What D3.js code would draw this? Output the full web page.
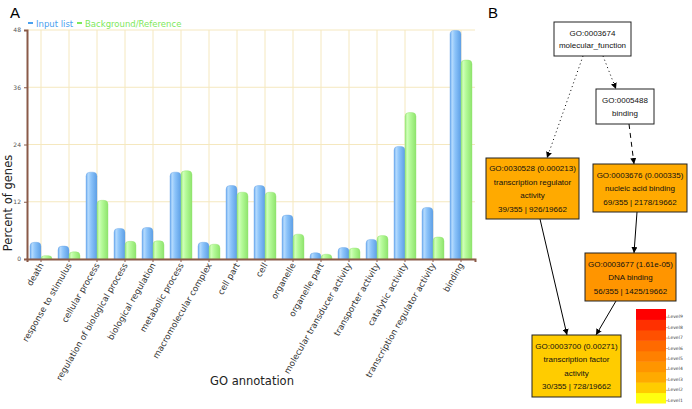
<!DOCTYPE html>
<html><head><meta charset="utf-8">
<script src="https://cdn.jsdelivr.net/npm/d3@7"></script>
<style>body{margin:0;background:#fff}svg{display:block}</style>
</head><body><svg id="c" width="692" height="409"></svg>
<script>
// ---------- Data ----------
const categories = ["death","response to stimulus","cellular process","regulation of biological process","biological regulation","metabolic process","macromolecular complex","cell part","cell","organelle","organelle part","molecular transducer activity","transporter activity","catalytic activity","transcription regulator activity","binding"];
const inputList = [3.5,2.7,18.2,6.4,6.6,18.2,3.5,15.4,15.4,9.2,1.3,2.4,4.1,23.6,10.8,47.9];
const background = [0.7,1.5,12.3,3.7,3.8,18.5,3.1,14.0,14.0,5.2,1.0,2.3,4.9,30.7,4.6,41.7];
const yTicks = [0,12,24,36,48];
const seriesNames = ["Input list","Background/Reference"];

const goNodes = [
  {id:"mf", lines:["GO:0003674","molecular_function"], level:0},
  {id:"bind", lines:["GO:0005488","binding"], level:0},
  {id:"tra", lines:["GO:0030528 (0.000213)","transcription regulator","activity","39/355 | 926/19662"], level:3},
  {id:"nab", lines:["GO:0003676 (0.000335)","nucleic acid binding","69/355 | 2178/19662"], level:3},
  {id:"dna", lines:["GO:0003677 (1.61e-05)","DNA binding","56/355 | 1425/19662"], level:4},
  {id:"tfa", lines:["GO:0003700 (0.00271)","transcription factor","activity","30/355 | 728/19662"], level:2}
];
const goEdges = [
  {s:"mf", t:"tra", style:"dotted"},
  {s:"mf", t:"bind", style:"dotted"},
  {s:"bind", t:"nab", style:"dashed"},
  {s:"nab", t:"dna", style:"solid"},
  {s:"tra", t:"tfa", style:"solid"},
  {s:"dna", t:"tfa", style:"solid"}
];
const levels = [1,2,3,4,5,6,7,8,9];
const levelColors = ["#ffff10","#ffcc00","#ffaa00","#ff9500","#ff8000","#ff6a00","#ff5000","#ff3000","#ff0000"];

// ---------- Layout (positions only) ----------
const nodeBox = {
  mf:{x:554,y:22,w:77,h:34},
  bind:{x:596,y:89,w:58,h:35},
  tra:{x:486,y:158,w:93,h:61},
  nab:{x:593,y:164,w:94,h:48},
  dna:{x:585,y:253,w:91,h:48},
  tfa:{x:532,y:335,w:89,h:62}
};
const edgeAnchors = {
  "mf-tra":[[583,56],[547,158]],
  "mf-bind":[[603,56],[616,89]],
  "bind-nab":[[629,124],[634,164]],
  "nab-dna":[[637,212],[634,253]],
  "tra-tfa":[[540,219],[567,335]],
  "dna-tfa":[[616,301],[596,335]]
};

const svg = d3.select("#c");
const defs = svg.append("defs");
function grad(id, stops){
  const g = defs.append("linearGradient").attr("id",id).attr("x1","0").attr("x2","1").attr("y1","0").attr("y2","0");
  stops.forEach(s=>g.append("stop").attr("offset",s[0]).attr("stop-color",s[1]));
}
grad("gBlue",[[0,"#6aaaf0"],[0.2,"#b4dafd"],[0.45,"#8cc4fa"],[1,"#5d9fe6"]]);
grad("gGreen",[[0,"#96e878"],[0.2,"#d0ffb8"],[0.45,"#b4fa98"],[1,"#8ee46c"]]);

// ---------- Panel A ----------
const pL = 27, pR = 475, pT = 30, pB = 259;
const x = d3.scaleBand().domain(categories).range([pL,pR]).paddingInner(0).paddingOuter(0);
const y = d3.scaleLinear().domain([0,48]).range([pB,pT]);

svg.append("text").attr("x",10).attr("y",18).attr("font-family","Liberation Sans, Arial").attr("font-size",15).text("A");

// grid
const grid = svg.append("g");
grid.selectAll("line.h").data(yTicks).join("line")
  .attr("x1",pL).attr("x2",pR).attr("y1",d=>y(d)).attr("y2",d=>y(d))
  .attr("stroke","#f5e8bf").attr("stroke-width",1);
grid.selectAll("line.v").data(categories).join("line")
  .attr("x1",d=>x(d)+x.bandwidth()/2).attr("x2",d=>x(d)+x.bandwidth()/2)
  .attr("y1",pT).attr("y2",pB).attr("stroke","#f5e8bf").attr("stroke-width",1);

// bars
const bw = 11;
function barPath(x0,w,y0,y1){
  const r = Math.min(4, (y1-y0));
  return `M${x0},${y1}V${y0+r}Q${x0},${y0} ${x0+r},${y0}H${x0+w-r}Q${x0+w},${y0} ${x0+w},${y0+r}V${y1}Z`;
}
const bars = svg.append("g");
bars.selectAll("path.b").data(categories).join("path").attr("class","b")
  .attr("d",(d,i)=>barPath(x(d)+x.bandwidth()/2-bw, bw, y(inputList[i]), y(0)))
  .attr("fill","url(#gBlue)").attr("stroke","#6aa4e6").attr("stroke-width",0.4);
bars.selectAll("path.g").data(categories).join("path").attr("class","g")
  .attr("d",(d,i)=>barPath(x(d)+x.bandwidth()/2, bw, y(background[i]), y(0)))
  .attr("fill","url(#gGreen)").attr("stroke","#92e070").attr("stroke-width",0.4);

// axes
const yAxis = d3.axisLeft(y).tickValues(yTicks).tickSize(3).tickFormat(d3.format("d"));
const ya = svg.append("g").attr("transform",`translate(${pL},0)`).call(yAxis);
ya.select(".domain").attr("stroke","#8a5a48").attr("stroke-width",2);
ya.selectAll(".tick line").attr("stroke","#8a5a48");
ya.selectAll(".tick text").attr("font-size",6).attr("fill","#555").attr("font-family","DejaVu Sans");

const xAxis = d3.axisBottom(x).tickSize(3);
const xa = svg.append("g").attr("transform",`translate(0,${pB})`).call(xAxis);
xa.select(".domain").attr("stroke","#8a5a48").attr("stroke-width",2);
xa.selectAll(".tick line").attr("stroke","#8a5a48");
xa.selectAll(".tick text").attr("font-size",8.6).attr("fill","#333").attr("font-family","DejaVu Sans")
  .attr("text-anchor","end").attr("dy",0).attr("y",0)
  .attr("transform","translate(3,6) rotate(-60)");

svg.append("text").attr("transform",`translate(12,203) rotate(-90)`).attr("text-anchor","middle")
  .attr("font-family","DejaVu Sans").attr("font-size",11.5).attr("fill","#222").text("Percent of genes");
svg.append("text").attr("x",252).attr("y",385).attr("text-anchor","middle")
  .attr("font-family","DejaVu Sans").attr("font-size",11.5).attr("fill","#222").text("GO annotation");

// legend
const lg = svg.append("g");
const legCols = ["#4aa0ee","#7ee85a"];
const legX = [28, 77];
seriesNames.forEach((n,i)=>{
  lg.append("line").attr("x1",legX[i]).attr("x2",legX[i]+5).attr("y1",23).attr("y2",23).attr("stroke",legCols[i]).attr("stroke-width",2);
  lg.append("text").attr("x",legX[i]+8).attr("y",26.5).attr("font-family","DejaVu Sans").attr("font-size",8.5)
    .attr("fill",legCols[i]).text(n);
});

// ---------- Panel B ----------
svg.append("text").attr("x",488).attr("y",18).attr("font-family","Liberation Sans, Arial").attr("font-size",15).text("B");

defs.append("marker").attr("id","arr").attr("viewBox","0 0 10 10").attr("refX",10).attr("refY",5)
  .attr("markerWidth",6).attr("markerHeight",6).attr("markerUnits","userSpaceOnUse").attr("orient","auto")
  .append("path").attr("d","M0,0L10,5L0,10Z").attr("fill","#000");

const dash = {dotted:"1,3", dashed:"5,4", solid:null};
svg.append("g").selectAll("line").data(goEdges).join("line")
  .attr("x1",d=>edgeAnchors[d.s+"-"+d.t][0][0]).attr("y1",d=>edgeAnchors[d.s+"-"+d.t][0][1])
  .attr("x2",d=>edgeAnchors[d.s+"-"+d.t][1][0]).attr("y2",d=>edgeAnchors[d.s+"-"+d.t][1][1])
  .attr("stroke","#000").attr("stroke-width",1).attr("stroke-dasharray",d=>dash[d.style])
  .attr("marker-end","url(#arr)");

const colorOf = lv => lv===0 ? "#fff" : levelColors[lv-1];
const ng = svg.append("g").selectAll("g").data(goNodes).join("g");
ng.append("rect").attr("x",d=>nodeBox[d.id].x).attr("y",d=>nodeBox[d.id].y)
  .attr("width",d=>nodeBox[d.id].w).attr("height",d=>nodeBox[d.id].h)
  .attr("fill",d=>colorOf(d.level)).attr("stroke","#222").attr("stroke-width",1);
ng.each(function(d){
  const b = nodeBox[d.id], n = d.lines.length, lh = n>2?13.5:12.5;
  const cy = b.y + b.h/2;
  d3.select(this).selectAll("text").data(d.lines).join("text")
    .attr("x",b.x+b.w/2).attr("y",(t,i)=>cy + (i-(n-1)/2)*lh + 3)
    .attr("text-anchor","middle").attr("font-family","Liberation Sans Narrow, Liberation Sans, Arial")
    .attr("font-size",8).attr("fill","#111").text(t=>t);
});

// level legend
const ly = d3.scaleBand().domain(levels.slice().reverse()).range([309,403]);
const lvg = svg.append("g");
lvg.selectAll("rect").data(levels).join("rect")
  .attr("x",636).attr("y",d=>ly(d)).attr("width",30).attr("height",ly.bandwidth()+0.5)
  .attr("fill",d=>levelColors[d-1]);
lvg.selectAll("text").data(levels).join("text")
  .attr("x",668).attr("y",d=>ly(d)+ly.bandwidth()/2+4).attr("font-family","DejaVu Sans").attr("font-size",4.5)
  .attr("fill","#444").text(d=>"Level"+d);
lvg.selectAll("line").data(levels).join("line")
  .attr("x1",666).attr("x2",668).attr("y1",d=>ly(d)+ly.bandwidth()/2+3).attr("y2",d=>ly(d)+ly.bandwidth()/2+3)
  .attr("stroke","#666").attr("stroke-width",0.5);
</script></body></html>
